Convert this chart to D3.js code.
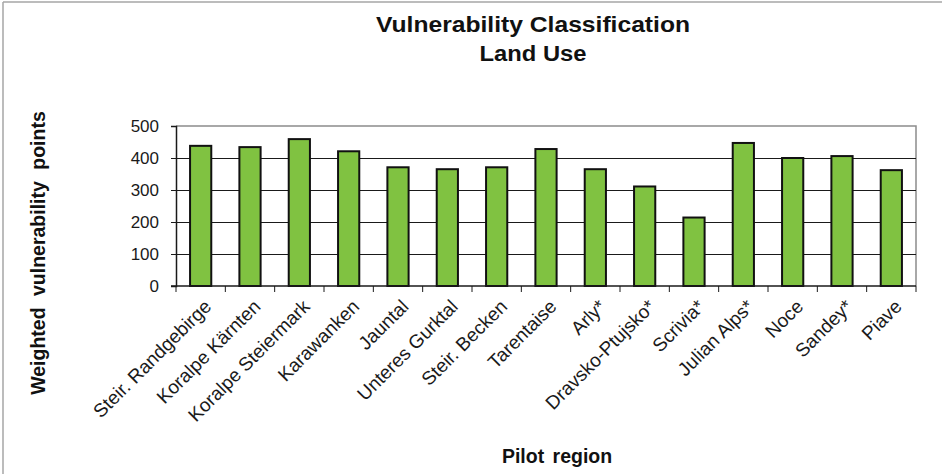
<!DOCTYPE html>
<html>
<head>
<meta charset="utf-8">
<script src="https://cdn.jsdelivr.net/npm/d3@7"></script>
<style>
  html, body { margin: 0; padding: 0; background: #fff; }
  svg { display: block; font-family: "Liberation Sans", Arial, sans-serif; }
</style>
</head>
<body>
<svg id="chart" width="942" height="474"></svg>
<script>
// Pilot regions and their weighted vulnerability points (land use)
const regions = [
  "Steir. Randgebirge", "Koralpe Kärnten", "Koralpe Steiermark", "Karawanken",
  "Jauntal", "Unteres Gurktal", "Steir. Becken", "Tarentaise", "Arly*",
  "Dravsko-Ptujsko*", "Scrivia*", "Julian Alps*", "Noce", "Sandey*", "Piave"
];
const points = [438, 434, 459, 421, 371, 365, 371, 428, 365, 311, 214, 447, 400, 406, 362];
const yTicks = [0, 100, 200, 300, 400, 500];

const titleLines = ["Vulnerability Classification", "Land Use"];
const titleWidths = [314, 107];
const yTitle = "Weighted vulnerability points";
const xTitle = "Pilot region";

const svg = d3.select("#chart");
const margin = { left: 176, top: 126, right: 916, bottom: 286 };

const x = d3.scaleBand()
  .domain(regions)
  .range([margin.left, margin.right])
  .paddingInner(0.57)
  .paddingOuter(0.285);

const y = d3.scaleLinear()
  .domain([0, 500])
  .range([margin.bottom, margin.top]);

// outer frame (top and left edges)
svg.append("line").attr("x1", 3).attr("x2", 3).attr("y1", 2).attr("y2", 474)
  .attr("stroke", "#a6a6a6").attr("stroke-width", 1.5);
svg.append("line").attr("x1", 3).attr("x2", 942).attr("y1", 2).attr("y2", 2)
  .attr("stroke", "#a6a6a6").attr("stroke-width", 1.5);

// plot border (top + right)
svg.append("path")
  .attr("d", `M${margin.left},${margin.top}H${margin.right}V${margin.bottom}`)
  .attr("fill", "none").attr("stroke", "#8c8c8c").attr("stroke-width", 1.5);

// horizontal gridlines
svg.append("g").selectAll("line")
  .data(yTicks.filter(d => d > 0 && d < 500))
  .join("line")
  .attr("x1", margin.left).attr("x2", margin.right)
  .attr("y1", d => Math.round(y(d)) + 0.5).attr("y2", d => Math.round(y(d)) + 0.5)
  .attr("stroke", "#1a1a1a").attr("stroke-width", 1);

// bars
svg.append("g").selectAll("rect")
  .data(regions.map((r, i) => ({ r, v: points[i] })))
  .join("rect")
  .attr("x", d => x(d.r))
  .attr("width", x.bandwidth())
  .attr("y", d => y(d.v))
  .attr("height", d => y(0) - y(d.v))
  .attr("fill", "#80c241")
  .attr("stroke", "#111")
  .attr("stroke-width", 2);

// y axis
const yAxis = svg.append("g")
  .attr("transform", `translate(${margin.left},0)`)
  .call(d3.axisLeft(y).tickValues(yTicks).tickSize(5).tickPadding(12));
yAxis.select(".domain").attr("stroke", "#1a1a1a").attr("stroke-width", 1.5);
yAxis.selectAll(".tick line").attr("stroke", "#1a1a1a");
yAxis.selectAll(".tick text")
  .attr("font-size", 17).attr("fill", "#1a1a1a")
  .attr("font-family", "Liberation Sans, Arial, sans-serif");

// x axis: ticks sit on the category boundaries
const step = x.step();
const boundaries = d3.range(regions.length + 1).map(i => margin.left + i * step);
svg.append("line")
  .attr("x1", margin.left - 5).attr("x2", margin.right)
  .attr("y1", margin.bottom).attr("y2", margin.bottom)
  .attr("stroke", "#1a1a1a").attr("stroke-width", 1.5);
svg.append("g").selectAll("line")
  .data(boundaries)
  .join("line")
  .attr("x1", d => d).attr("x2", d => d)
  .attr("y1", margin.bottom).attr("y2", margin.bottom + 6)
  .attr("stroke", "#1a1a1a").attr("stroke-width", 1);

// rotated category labels
svg.append("g").selectAll("text")
  .data(regions)
  .join("text")
  .attr("transform", d => `translate(${x(d) + x.bandwidth() / 2 + 7},${margin.bottom + 17}) rotate(-45)`)
  .attr("text-anchor", "end")
  .attr("dy", "0.35em")
  .attr("font-size", 19)
  .attr("fill", "#1a1a1a")
  .text(d => d);

// titles
svg.append("g").selectAll("text")
  .data(titleLines)
  .join("text")
  .attr("x", 533)
  .attr("y", (d, i) => 32 + i * 29)
  .attr("text-anchor", "middle")
  .attr("font-size", 22)
  .attr("font-weight", "bold")
  .attr("textLength", (d, i) => titleWidths[i])
  .attr("lengthAdjust", "spacingAndGlyphs")
  .attr("fill", "#111")
  .text(d => d);

svg.append("text")
  .attr("transform", `translate(45,253) rotate(-90)`)
  .attr("text-anchor", "middle")
  .attr("font-size", 19.5)
  .attr("font-weight", "bold")
  .attr("word-spacing", 6)
  .attr("fill", "#111")
  .text(yTitle);

svg.append("text")
  .attr("x", 557)
  .attr("y", 463)
  .attr("text-anchor", "middle")
  .attr("font-size", 19.5)
  .attr("font-weight", "bold")
  .attr("word-spacing", 3)
  .attr("fill", "#111")
  .text(xTitle);
</script>
</body>
</html>
